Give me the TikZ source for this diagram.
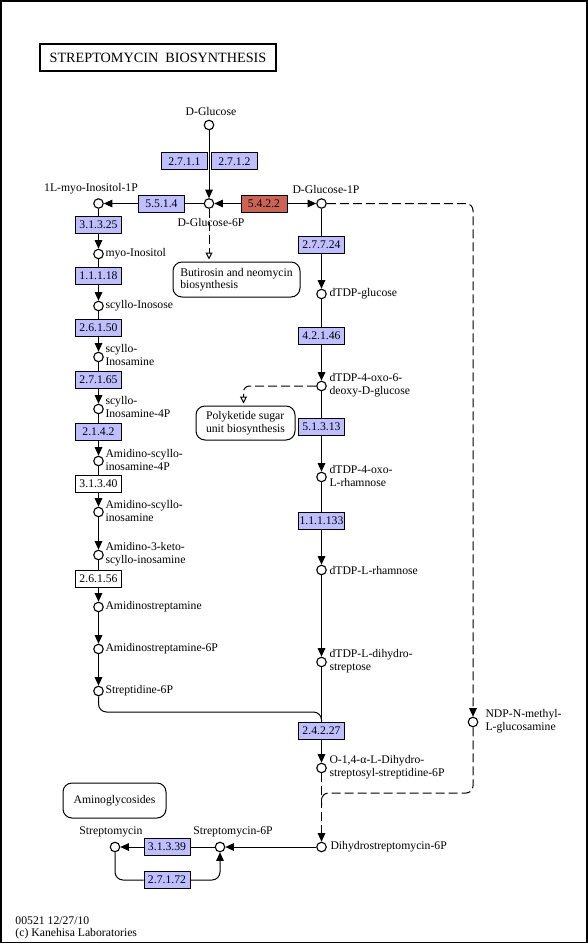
\documentclass[tikz,border=0pt]{standalone}
\usepackage{fontspec}
\setmainfont{Liberation Serif}
\usetikzlibrary{arrows.meta}
\definecolor{ecblue}{RGB}{191,191,255}
\definecolor{ecred}{RGB}{204,100,85}
\begin{document}
\begin{tikzpicture}[x=1pt,y=-1pt, line width=1pt,
  every node/.style={font=\fontsize{11.7}{12.5}\selectfont, inner sep=0pt},
  cpd/.style={circle,draw,fill=white,minimum size=9.5pt,line width=1.1pt},
  ec/.style={draw,fill=ecblue,minimum width=46pt,minimum height=17pt},
  ecw/.style={ec,fill=white},
  ecr/.style={ec,fill=ecred},
  mapbox/.style={draw,rounded corners=9pt,align=left},
  lbl/.style={align=left,anchor=west},
  lblc/.style={align=center},
  arr/.style={-{Triangle[length=8.5pt,width=7.5pt]}},
  oarr/.style={-{Triangle[open,length=7pt,width=7pt]},shorten >=2pt},
  dsh/.style={dash pattern=on 9pt off 4pt},
]
\useasboundingbox (0,0) rectangle (588,944);
\draw[line width=1.7pt] (0.85,0.85) rectangle (586.7,942.6);
\node[draw,line width=2pt,minimum width=236pt,minimum height=27pt,font=\fontsize{14.2}{16}\selectfont] (title) at (158,58) {STREPTOMYCIN\ \ BIOSYNTHESIS};

% compounds
\node[cpd] (glc) at (209,125) {};
\node[cpd] (g6p) at (209,203.5) {};
\node[cpd] (mi1p) at (98.5,203.5) {};
\node[cpd] (g1p) at (321.5,203.5) {};
\node[cpd] (myo) at (98.5,254) {};
\node[cpd] (inosose) at (98.5,306) {};
\node[cpd] (inosam) at (98.5,357) {};
\node[cpd] (inosam4p) at (98.5,409) {};
\node[cpd] (ami4p) at (98.5,461) {};
\node[cpd] (ami) at (98.5,512) {};
\node[cpd] (aketo) at (98.5,555) {};
\node[cpd] (amst) at (98.5,607) {};
\node[cpd] (amst6p) at (98.5,649) {};
\node[cpd] (strd6p) at (98.5,691) {};
\node[cpd] (dglc) at (321.5,294) {};
\node[cpd] (doxo6) at (321.5,386) {};
\node[cpd] (doxol) at (321.5,477) {};
\node[cpd] (drha) at (321.5,570) {};
\node[cpd] (ddhs) at (321.5,662) {};
\node[cpd] (o14) at (321.5,768) {};
\node[cpd] (dhs6p) at (321.5,847) {};
\node[cpd] (ndp) at (473,722) {};
\node[cpd] (st6p) at (220,847) {};
\node[cpd] (st) at (115,847) {};

% enzymes
\node[ec] (e2711) at (184.5,161.5) {2.7.1.1};
\node[ec] (e2712) at (234.5,161.5) {2.7.1.2};
\node[ec] (e5514) at (161.5,203.5) {5.5.1.4};
\node[ecr] (e5422) at (264,203.5) {5.4.2.2};
\node[ec] (e31325) at (98.5,224.5) {3.1.3.25};
\node[ec] (e11118) at (98.5,276) {1.1.1.18};
\node[ec] (e26150) at (98.5,328) {2.6.1.50};
\node[ec] (e27165) at (98.5,380) {2.7.1.65};
\node[ec] (e2142) at (98.5,432) {2.1.4.2};
\node[ecw] (e31340) at (98.5,484) {3.1.3.40};
\node[ecw] (e26156) at (98.5,578.5) {2.6.1.56};
\node[ec] (e27724) at (321.5,245) {2.7.7.24};
\node[ec] (e42146) at (321.5,335.5) {4.2.1.46};
\node[ec] (e51313) at (321.5,427) {5.1.3.13};
\node[ec] (e111133) at (321.5,521) {1.1.1.133};
\node[ec] (e24227) at (321.5,731) {2.4.2.27};
\node[ec] (e31339) at (167,847) {3.1.3.39};
\node[ec] (e27172) at (167,880) {2.7.1.72};

% maps
\node[mapbox,minimum width=127pt,minimum height=35pt] (butir) at (236.5,279.5) {Butirosin and neomycin\\biosynthesis};
\node[mapbox,minimum width=99pt,minimum height=34pt] (polyk) at (245.5,423) {Polyketide sugar\\unit biosynthesis};
\node[mapbox,minimum width=103pt,minimum height=35pt] (amgly) at (114.5,800.5) {Aminoglycosides};

% labels
\node[lblc] (l-glc) at (211,111) {D-Glucose};
\node[lblc] (l-g6p) at (211,222) {D-Glucose-6P};
\node[lblc] (l-mi1p) at (91,189) {1L-myo-Inositol-1P};
\node[lblc] (l-g1p) at (326,189) {D-Glucose-1P};
\node[lbl] (l-myo) at (105,254) {myo-Inositol};
\node[lbl] (l-inosose) at (105,306) {scyllo-Inosose};
\node[lbl] (l-inosam) at (105,355) {scyllo-\\Inosamine};
\node[lbl] (l-inosam4p) at (105,407) {scyllo-\\Inosamine-4P};
\node[lbl] (l-ami4p) at (105,460) {Amidino-scyllo-\\inosamine-4P};
\node[lbl] (l-ami) at (105,511) {Amidino-scyllo-\\inosamine};
\node[lbl] (l-aketo) at (105,554) {Amidino-3-keto-\\scyllo-inosamine};
\node[lbl] (l-amst) at (105,607) {Amidinostreptamine};
\node[lbl] (l-amst6p) at (105,649) {Amidinostreptamine-6P};
\node[lbl] (l-strd6p) at (105,691) {Streptidine-6P};
\node[lbl] (l-dglc) at (329,294) {dTDP-glucose};
\node[lbl] (l-doxo6) at (329,385) {dTDP-4-oxo-6-\\deoxy-D-glucose};
\node[lbl] (l-doxol) at (329,476) {dTDP-4-oxo-\\L-rhamnose};
\node[lbl] (l-drha) at (329,570) {dTDP-L-rhamnose};
\node[lbl] (l-ddhs) at (329,661) {dTDP-L-dihydro-\\streptose};
\node[lbl] (l-o14) at (329,767) {O-1,4-α-L-Dihydro-\\streptosyl-streptidine-6P};
\node[lbl] (l-dhs6p) at (330,847) {Dihydrostreptomycin-6P};
\node[lbl] (l-ndp) at (485,721) {NDP-N-methyl-\\L-glucosamine};
\node[lblc] (l-st6p) at (233,832) {Streptomycin-6P};
\node[lblc] (l-st) at (111,832) {Streptomycin};
\node[lbl] (foot) at (15,928) {00521 12/27/10\\(c) Kanehisa Laboratories};

% top reactions
\draw[arr] (glc) -- (g6p);
\draw (g6p) -- (e5514);
\draw[arr] (e5514) -- (mi1p);
\draw[arr] (e5422) -- (g6p);
\draw[arr] (e5422) -- (g1p);
\draw[dsh,oarr] (g6p) -- (g6p |- butir.north);

% left column
\draw (mi1p) -- (e31325);  \draw[arr] (e31325) -- (myo);
\draw (myo) -- (e11118);   \draw[arr] (e11118) -- (inosose);
\draw (inosose) -- (e26150); \draw[arr] (e26150) -- (inosam);
\draw (inosam) -- (e27165); \draw[arr] (e27165) -- (inosam4p);
\draw (inosam4p) -- (e2142); \draw[arr] (e2142) -- (ami4p);
\draw (ami4p) -- (e31340); \draw[arr] (e31340) -- (ami);
\draw[arr] (ami) -- (aketo);
\draw (aketo) -- (e26156); \draw[arr] (e26156) -- (amst);
\draw[arr] (amst) -- (amst6p);
\draw[arr] (amst6p) -- (strd6p);
\coordinate (sa) at (98.5,712);
\coordinate (sb) at (321.5,712);
\draw[rounded corners=8pt] (strd6p) -- (sa) -- (sb) -- (e24227);

% right column
\draw (g1p) -- (e27724); \draw[arr] (e27724) -- (dglc);
\draw (dglc) -- (e42146); \draw[arr] (e42146) -- (doxo6);
\draw (doxo6) -- (e51313); \draw[arr] (e51313) -- (doxol);
\draw (doxol) -- (e111133); \draw[arr] (e111133) -- (drha);
\draw[arr] (drha) -- (ddhs);
\draw (ddhs) -- (e24227); \draw[arr] (e24227) -- (o14);
\draw[dsh,oarr,rounded corners=6pt] (doxo6) -| ([xshift=-2pt]polyk.north);

% dashed NDP branch
\draw[dsh,arr,rounded corners=7pt] (g1p) -| (ndp);
\coordinate (na) at (473,793);
\coordinate (nb) at (321.5,793);
\coordinate (nc) at (321.5,806);
\draw[dsh,rounded corners=7pt] (ndp) -- (na) -- (nb) -- (nc);
\draw[dsh,arr] (o14) -- (dhs6p);

% bottom
\draw[arr] (dhs6p) -- (st6p);
\draw (st6p) -- (e31339);
\draw[arr] (e31339) -- (st);
\draw[rounded corners=8pt] (st) |- (e27172.west);
\draw[arr,rounded corners=8pt] (e27172.east) -| (st6p);
\end{tikzpicture}
\end{document}
